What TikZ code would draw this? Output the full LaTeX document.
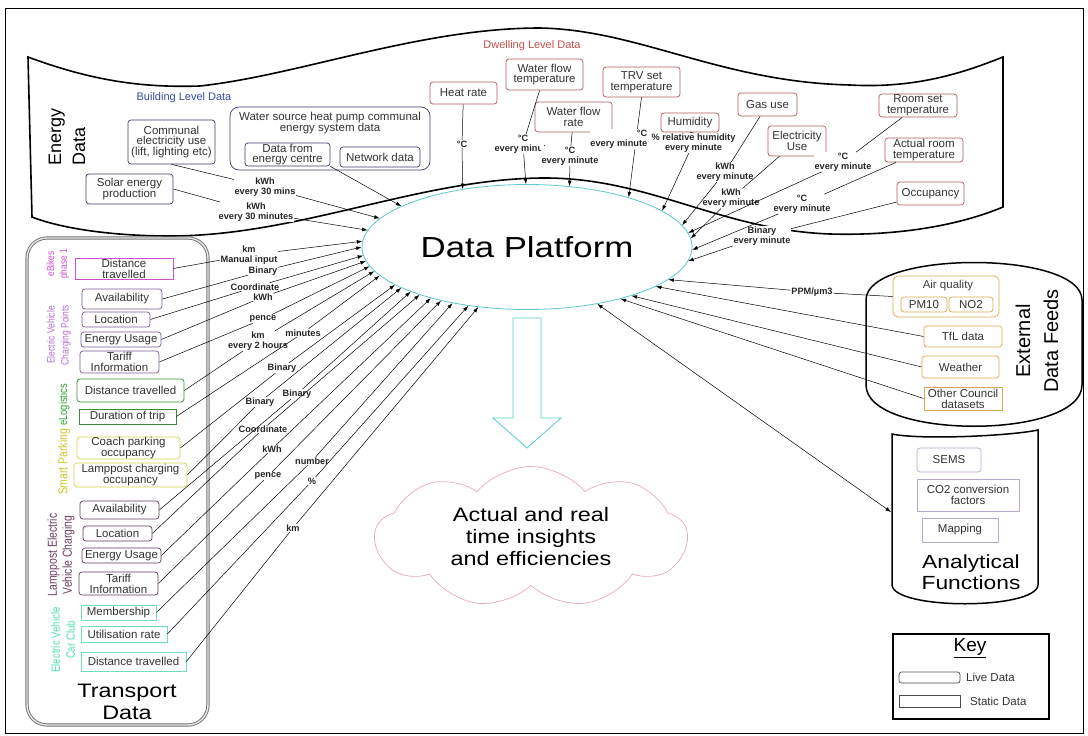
\documentclass[tikz,border=0pt]{standalone}
\usepackage{fontspec}
\setmainfont{Liberation Sans}
\newfontfamily\widefont{Liberation Sans}[FakeStretch=1.2]
\newfontfamily\narrowfont{Liberation Sans}[FakeStretch=0.8]
\usetikzlibrary{arrows.meta,shapes.geometric,shapes.symbols}

\definecolor{dpcol}{HTML}{5CC8CC}
\definecolor{cloudcol}{HTML}{E4A8C8}
\definecolor{bldcol}{HTML}{3A3C6A}
\definecolor{bldtxt}{HTML}{3848A0}
\definecolor{dwlcol}{HTML}{B05A5A}
\definecolor{dwltxt}{HTML}{C85050}
\definecolor{bikecol}{HTML}{CC50CC}
\definecolor{evcpcol}{HTML}{7E5A92}
\definecolor{evcptxt}{HTML}{B070D0}
\definecolor{logcol}{HTML}{3A8A3A}
\definecolor{logtxt}{HTML}{30A030}
\definecolor{parkcol}{HTML}{D2D250}
\definecolor{parktxt}{HTML}{C8C828}
\definecolor{lampcol}{HTML}{5A3C5A}
\definecolor{lamptxt}{HTML}{6E3E62}
\definecolor{clubcol}{HTML}{70E0B8}
\definecolor{clubtxt}{HTML}{50E0A8}
\definecolor{extcol}{HTML}{D8A850}
\definecolor{anacol}{HTML}{B8A8D0}

\newcommand\bxfont{\fontsize{11.5}{10.8}\selectfont}
\newcommand\lbfont{\bfseries\fontsize{9.2}{9.8}\selectfont}

\begin{document}
\begin{tikzpicture}[x=1pt,y=-1pt,
  bx/.style={draw=#1, text=black!80, font=\bxfont, align=center, inner sep=0pt, line width=0.7pt},
  lv/.style={bx=#1, rounded corners=3pt},
  st/.style={bx=#1},
  wh/.style 2 args={minimum width=#1pt, minimum height=#2pt},
  lb/.style={font=\lbfont, fill=white, inner sep=0.6pt, align=center, text=black!85},
  arr/.style={-{Latex[length=5.5pt,width=3.8pt]}, line width=0.5pt},
  ln/.style={line width=0.5pt},
  grp/.style={rotate=90, align=center, text=#1, inner sep=0pt},
  outline/.style={line width=1.5pt, draw=black},
]
\useasboundingbox (0,0) rectangle (1088,736);
\draw[line width=1pt] (5.5,8) rectangle (1083.5,733);

% ---------- energy banner ----------
\draw[line width=1.6pt]
  (28,57) .. controls (90,80) and (140,88) .. (200,86)
  .. controls (300,75) and (420,28) .. (540,28)
  .. controls (640,30) and (720,82) .. (850,85)
  .. controls (920,89) and (970,70) .. (1003,57)
  -- (1003,207)
  .. controls (960,225) and (900,236) .. (830,234)
  .. controls (720,230) and (650,178) .. (545,178)
  .. controls (420,178) and (300,236) .. (170,236)
  .. controls (110,236) and (60,228) .. (32,217) -- cycle;
\node[font=\fontsize{18}{24}\selectfont, rotate=90, align=left, inner sep=0pt] (edata) at (67,137) {Energy\\Data};
\node[text=bldtxt, font=\fontsize{11}{12}\selectfont] (bld) at (184,98) {Building Level Data};
\node[text=dwltxt, font=\fontsize{11}{12}\selectfont] (dwl) at (532,46) {Dwelling Level Data};

% ---------- transport, external and analytical containers ----------
\draw[draw=black!55, line width=0.9pt, double=black!10, double distance=1.4pt, rounded corners=20pt] (27,238) rectangle (208,725);
\node[align=center, font=\widefont\fontsize{19.5}{22}\selectfont] (trt) at (127,702) {Transport\\Data};

\draw[outline] (866,300) .. controls (866,250) and (1082,250) .. (1082,300) -- (1082,385)
  .. controls (1082,440) and (866,440) .. (866,385) -- cycle;
\node[rotate=90, align=center, font=\fontsize{20}{28}\selectfont] (ext) at (1037,341) {External\\Data Feeds};

\draw[outline] (892,434) .. controls (920,440) and (1010,436) .. (1038,430) -- (1038,585)
  .. controls (1036,610) and (894,610) .. (892,585) -- cycle;
\node[align=center, font=\widefont\fontsize{19}{20.5}\selectfont] (anat) at (971,572) {Analytical\\Functions};

% ---------- platform, output arrow and cloud ----------
\node[ellipse, draw=dpcol, line width=0.8pt, fill=white, wh={330}{125}, inner sep=0pt,
  font=\widefont\fontsize{29}{30}\selectfont] (dp) at (527,247) {Data Platform};
\draw[draw=dpcol, line width=0.8pt] (513,318) -- (541,318) -- (541,418) -- (561,418) -- (527,448) -- (493,418) -- (513,418) -- cycle;
\node[cloud, draw=cloudcol, line width=0.7pt, cloud puffs=9, cloud puff arc=100, aspect=2.2,
  minimum width=312pt, minimum height=141pt, inner sep=0pt, align=center,
  font=\widefont\fontsize{19.5}{22}\selectfont] (cl) at (531,537) {Actual and real\\time insights\\and efficiencies};

% ---------- building level boxes ----------
\node[lv=bldcol, wh={87}{44}] (comm) at (171.5,142) {Communal\\electricity use\\(lift, lighting etc)};
\node[lv=bldcol, wh={87}{30}] (solar) at (129.5,189) {Solar energy\\production};
\node[bx=bldcol, rounded corners=9pt, wh={200}{63}] (wshp) at (330,138.5) {};
\node[text=black!80, font=\bxfont, align=center, inner sep=0pt] (wstxt) at (330,123) {Water source heat pump communal\\energy system data};
\node[lv=bldcol, wh={85}{23}] (ec) at (287.5,154.5) {Data from\\energy centre};
\node[lv=bldcol, wh={80}{20}] (net) at (380,157) {Network data};

% ---------- dwelling level boxes ----------
\node[lv=dwlcol, wh={67}{22}] (hr) at (463.5,93) {Heat rate};
\node[lv=dwlcol, wh={77}{31}] (wft) at (544.5,74.5) {Water flow\\temperature};
\node[lv=dwlcol, wh={77}{30}] (wfr) at (573.5,117) {Water flow\\rate};
\node[lv=dwlcol, wh={77}{30}] (trv) at (641.5,82) {TRV set\\temperature};
\node[lv=dwlcol, wh={58}{19}] (hum) at (690,122.5) {Humidity};
\node[lv=dwlcol, wh={59}{23}] (gas) at (767.5,104.5) {Gas use};
\node[lv=dwlcol, wh={58}{30}] (elec) at (797,141) {Electricity\\Use};
\node[lv=dwlcol, wh={78}{23}] (rst) at (918,105.5) {Room set\\temperature};
\node[lv=dwlcol, wh={78}{24}] (art) at (924,150) {Actual room\\temperature};
\node[lv=dwlcol, wh={67}{23}] (occ) at (930.5,193.5) {Occupancy};

% the TRV feed runs straight through its label
\draw[arr] (trv.south) -- (dp.26.3);

% ---------- energy labels ----------
\node[lb] (l1) at (265,187) {kWh\\every 30 mins};
\node[lb] (l2) at (256,212) {kWh\\every 30 minutes};
\node[lb] (lhr) at (462,144) {°C};
\node[lb] (lwft) at (523,144) {°C\\every minute};
\node[lb] (lwfr) at (570,156) {°C\\every minute};
\node[lb, align=right, anchor=east] (ltrv) at (648,139) {°C\\every minute};
\node[lb] (lhum) at (693.5,143) {\% relative humidity\\every minute};
\node[lb] (lgas) at (725,172) {kWh\\every minute};
\node[lb] (lel) at (731,198.5) {kWh\\every minute};
\node[lb] (lrst) at (843,162) {°C\\every minute};
\node[lb] (lart) at (802,204) {°C\\every minute};
\node[lb] (locc) at (762,236) {Binary\\every minute};

% ---------- transport groups ----------
\node[grp=bikecol, font=\narrowfont\fontsize{10.4}{13}\selectfont] (gb) at (58,264) {eBikes\\phase 1};
\node[grp=evcptxt, font=\narrowfont\fontsize{10.6}{14}\selectfont] (gev) at (59,335) {Electric Vehicle\\Charging Points};
\node[grp=logtxt, font=\narrowfont\fontsize{11.7}{13}\selectfont] (glog) at (64,405) {eLogistics};
\node[grp=parktxt, font=\narrowfont\fontsize{13}{14}\selectfont] (gpark) at (64,462) {Smart Parking};
\node[grp=lamptxt, font=\narrowfont\fontsize{13}{15}\selectfont] (glamp) at (61,555) {Lamppost Electric\\Vehicle Charging};
\node[grp=clubtxt, font=\narrowfont\fontsize{12}{15}\selectfont] (gclub) at (63,640) {Electric Vehicle\\Car Club};

\node[st=bikecol, wh={98}{21}] (eb1) at (124,268.5) {Distance\\travelled};
\node[lv=evcpcol, wh={80}{20}] (ev1) at (122,299) {Availability};
\node[lv=evcpcol, wh={68}{15}] (ev2) at (116,319.5) {Location};
\node[lv=evcpcol, wh={80}{15}] (ev3) at (121,339.5) {Energy Usage};
\node[lv=evcpcol, wh={79}{22}] (ev4) at (119.5,362) {Tariff\\Information};
\node[lv=logcol, wh={107}{23}] (el1) at (130.5,390.5) {Distance travelled};
\node[st=logcol, wh={97}{15}] (el2) at (127.5,416.5) {Duration of trip};
\node[lv=parkcol, wh={103}{22}] (sp1) at (128.5,448) {Coach parking\\occupancy};
\node[lv=parkcol, wh={113}{24}] (sp2) at (130.5,475) {Lamppost charging\\occupancy};
\node[lv=lampcol, wh={79}{18}] (lp1) at (119.5,510) {Availability};
\node[lv=lampcol, wh={69}{15}] (lp2) at (117.5,533.5) {Location};
\node[lv=lampcol, wh={79}{15}] (lp3) at (121.5,555.5) {Energy Usage};
\node[lv=lampcol, wh={79}{23}] (lp4) at (118.5,583.5) {Tariff\\Information};
\node[st=clubcol, wh={75}{15}] (cc1) at (118.5,612.5) {Membership};
\node[st=clubcol, wh={86}{16}] (cc2) at (124,634) {Utilisation rate};
\node[st=clubcol, wh={105}{19}] (cc3) at (133.5,661.5) {Distance travelled};

% ---------- transport labels ----------
\node[lb] (t1) at (249,255) {km\\Manual input};
\node[lb] (t2) at (263,271) {Binary};
\node[lb] (t3) at (255,287) {Coordinate};
\node[lb] (t4) at (263,297) {kWh};
\node[lb] (t5) at (263,319) {pence};
\node[lb] (t6) at (258,341) {km\\every 2 hours};
\node[lb] (t7) at (303,333) {minutes};
\node[lb] (t8) at (282,368) {Binary};
\node[lb] (t9) at (260,402) {Binary};
\node[lb] (t10) at (297,394) {Binary};
\node[lb] (t11) at (263,429) {Coordinate};
\node[lb] (t12) at (272,449) {kWh};
\node[lb] (t13) at (268,476) {pence};
\node[lb] (t14) at (312,461) {number};
\node[lb] (t15) at (312,481) {\%};
\node[lb] (t16) at (293,528) {km};

% ---------- external feeds ----------
\node[lv=extcol, wh={106}{41}, rounded corners=5pt] (aq) at (946,296.5) {};
\node[text=black!75, font=\bxfont, inner sep=0pt] (aqt) at (948,286) {Air quality};
\node[lv=extcol, wh={46}{15}] (pm) at (924,304.5) {PM10};
\node[lv=extcol, wh={44}{15}] (no) at (971,304.5) {NO2};
\node[lv=extcol, wh={78}{21}] (tfl) at (963,336.5) {TfL data};
\node[lv=extcol, wh={77}{22}] (wea) at (960.5,367) {Weather};
\node[st=extcol, wh={78}{23}] (oc) at (963,398.5) {Other Council\\datasets};
\node[lb] (lppm) at (812,292) {PPM/µm3};

% ---------- analytical functions ----------
\node[lv=anacol, wh={64}{24}] (sems) at (949,460) {SEMS};
\node[st=anacol, wh={102}{32}] (co2) at (968,495) {CO2 conversion\\factors};
\node[st=anacol, wh={76}{24}] (map) at (960,530) {Mapping};
\coordinate (anl) at (891,512);

% ---------- key ----------
\node[draw, line width=1.2pt, wh={156}{85}, inner sep=0pt] (key) at (971,676.5) {};
\node[font=\fontsize{19}{20}\selectfont, inner sep=0pt] (keyt) at (970,648) {\underline{Key}};
\node[draw=black!70, rounded corners=2.5pt, line width=0.7pt, wh={61}{11}, inner sep=0pt] (klive) at (929.5,677.5) {};
\node[font=\bxfont, anchor=west, text=black!80, inner sep=0pt] (klt) at (966,677.5) {Live Data};
\node[draw=black!70, line width=0.7pt, wh={61}{12}, inner sep=0pt] (kst) at (929.5,701) {};
\node[font=\bxfont, anchor=west, text=black!80, inner sep=0pt] (kstt) at (970,701) {Static Data};

% ---------- energy connectors ----------
\draw[ln] (comm.south) -- (l1);   \draw[arr] (l1) -- (dp.169.7);
\draw[ln] (solar.east) -- (l2);   \draw[arr] (l2) -- (dp.174.3);
\draw[arr] (ec.south east) -- (dp.162.5);
\draw[ln] (hr) -- (lhr);          \draw[arr] (lhr) -- (dp.138.8);
\draw[ln] (wft) -- (lwft);        \draw[arr] (lwft) -- (dp.91.8);
\draw[ln] (wfr) -- (lwfr);        \draw[arr] (lwfr) -- (dp.55.9);
\draw[ln] (hum.south) -- (lhum.north); \draw[arr] (lhum) -- (dp.15.9);
\draw[ln] (gas) -- (lgas);        \draw[arr] (lgas) -- (dp.8.5);
\draw[ln] (elec) -- (lel);        \draw[arr] (lel) -- (dp.3);
\draw[ln] (rst) -- (lrst);        \draw[arr] (lrst) -- (dp.5.5);
\draw[ln] (art) -- (lart);        \draw[arr] (lart) -- (dp.359.5);
\draw[ln] (occ) -- (locc);        \draw[arr] (locc) -- (dp.355.2);

% ---------- transport connectors ----------
\draw[ln] (eb1.east) -- (t1);  \draw[arr] (t1) -- (dp.178.6);
\draw[ln] (ev1.east) -- (t2);  \draw[arr] (t2) -- (dp.180.7);
\draw[ln] (ev2.east) -- (t3);  \draw[arr] (t3) -- (dp.183.1);
\draw[ln] (ev3.east) -- (t4);  \draw[arr] (t4) -- (dp.185.2);
\draw[ln] (ev4.east) -- (t5);  \draw[arr] (t5) -- (dp.187.5);
\draw[ln] (el1.east) -- (t6);  \draw[arr] (t6) -- (dp.189.9);
\draw[ln] (el2.east) -- (t7);  \draw[arr] (t7) -- (dp.191.9);
\draw[ln] (sp1.east) -- (t8);  \draw[arr] (t8) -- (dp.196.5);
\draw[ln] (sp2.east) -- (t9);  \draw[arr] (t9) -- (dp.198.9);
\draw[ln] (lp1.east) -- (t10); \draw[arr] (t10) -- (dp.201.6);
\draw[ln] (lp2.east) -- (t11); \draw[arr] (t11) -- (dp.204.3);
\draw[ln] (lp3.east) -- (t12); \draw[arr] (t12) -- (dp.208.1);
\draw[ln] (lp4.east) -- (t13); \draw[arr] (t13) -- (dp.212.1);
\draw[ln] (cc1.east) -- (t14); \draw[arr] (t14) -- (dp.217.8);
\draw[ln] (cc2.east) -- (t15); \draw[arr] (t15) -- (dp.225.9);
\draw[ln] (cc3.east) -- (t16); \draw[arr] (t16) -- (dp.231.8);

% ---------- external and analytical connectors ----------
\draw[ln] (aq.west) -- (lppm);  \draw[arr] (lppm) -- (dp.347.8);
\draw[arr] (tfl.west) -- (dp.343.2);
\draw[arr] (wea.west) -- (dp.335.8);
\draw[arr] (oc.west) -- (dp.331.5);
\draw[{Latex[length=5.5pt,width=3.8pt]}-{Latex[length=5.5pt,width=3.8pt]}, line width=0.5pt] (dp.321.3) -- (anl);
\end{tikzpicture}
\end{document}
